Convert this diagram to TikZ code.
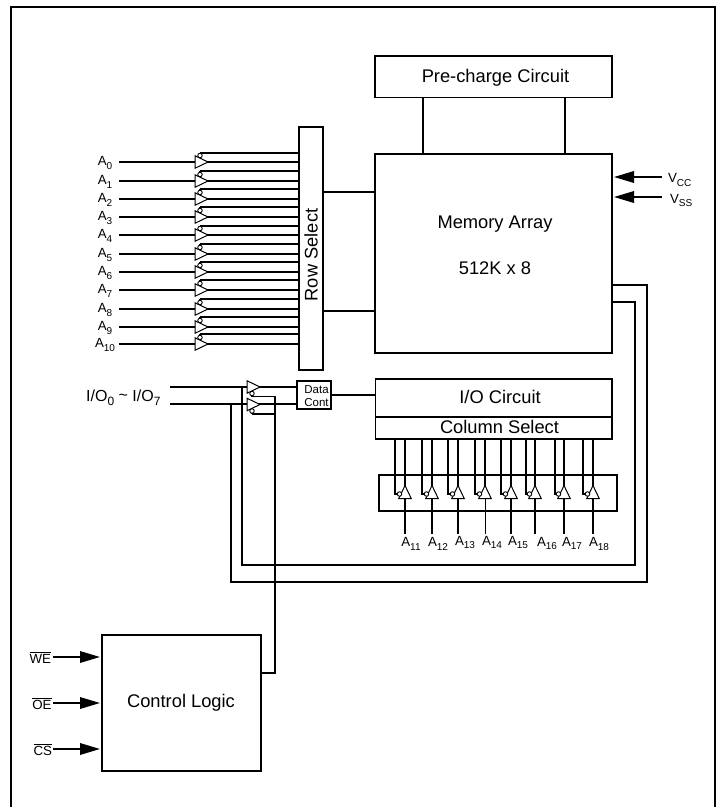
\documentclass[tikz,border=0pt]{standalone}
\usepackage{fontspec}
\setmainfont{Liberation Sans}
\usetikzlibrary{arrows.meta,shapes.geometric,calc}
\newcommand{\fsz}[1]{\fontsize{#1}{#1}\selectfont}
\newcommand{\lsub}[2]{#1\raisebox{-0.28em}{\fsz{10}#2}}
\newcommand{\bigbox}[6]{%
  \node[box,minimum width={(#4-#2)*1pt},minimum height={(#5-#3)*1pt}] (#1) at ({(#2+#4)/2},{(#3+#5)/2}) {#6};}
\tikzset{
  wire/.style={line width=1.8pt},
  box/.style={draw,line width=1.8pt,inner sep=0pt,outer sep=0pt,font=\fsz{18.3}},
  title/.style={inner sep=0pt,outer sep=0pt,font=\fsz{18.3}},
  buf/.style={draw,fill=white,line width=1pt,isosceles triangle,isosceles triangle stretches,
    minimum width=12.5pt,minimum height=13pt,inner sep=0pt,outer sep=0pt,anchor=lower side},
  bub/.style={draw,fill=white,circle,line width=0.9pt,minimum size=4.5pt,inner sep=0pt,outer sep=0pt},
  lab/.style={inner sep=0pt,outer sep=0pt,font=\fsz{13.3}},
  inarrow/.style={line width=1.8pt,-{Triangle[length=20pt,width=11.5pt]},shorten >=2pt},
}
\begin{document}
\begin{tikzpicture}[x=1pt,y=-1pt]
\useasboundingbox (0,0) rectangle (721,807);
\coordinate (fbl) at (11,807);
\coordinate (ftl) at (11,7);
\coordinate (ftr) at (715,7);
\coordinate (fbr) at (715,807);
\draw[wire] (fbl) -- (ftl) -- (ftr) -- (fbr);

% main blocks
\bigbox{pre}{375}{56}{612}{97.5}{}
\node[title] (pret) at (495.5,78) {Pre-charge Circuit};
\bigbox{mem}{375}{154}{612}{353}{}
\node[title] (memt) at (495,224) {Memory Array};
\node[title] (mems) at (495,268.5) {512K x 8};
\bigbox{row}{299}{127}{323}{370}{}
\node[rotate=90,title] (rowt) at (311,255) {Row Select};
\bigbox{ioc}{375.5}{379}{612}{417}{}
\node[title] (ioct) at (500,397) {I/O Circuit};
\bigbox{col}{375.5}{417}{612}{439}{}
\node[title] (colt) at (499.5,427) {Column Select};
\bigbox{ctl}{102}{635}{261}{771}{}
\node[title] (ctlt) at (181,703) {Control Logic};
\bigbox{colf}{379}{475}{617}{511}{}
\node[draw,line width=1.8pt,minimum width=34pt,minimum height=28pt,inner sep=0pt,outer sep=0pt] (dc) at (314,395) {};
\node[inner sep=0pt,align=right,font=\fsz{11.5}] (dct) at (316,396) {\hspace*{1pt}Data\\[1pt]Cont};

% pre-charge to memory
\draw[wire] (pre.south -| 423,0) -- (mem.north -| 423,0);
\draw[wire] (pre.south -| 565,0) -- (mem.north -| 565,0);
% row select to memory
\draw[wire] (row.east |- 0,192) -- (mem.west |- 0,192);
\draw[wire] (row.east |- 0,311) -- (mem.west |- 0,311);

% power
\coordinate (vcc0) at (662,177);
\coordinate (vss0) at (662,197);
\node[lab,anchor=west] (vcc) at (668,180) {\lsub{V}{CC}};
\node[lab,anchor=west] (vss) at (670,200.5) {\lsub{V}{SS}};
\draw[inarrow] (vcc0) -- (mem.east |- vcc0);
\draw[inarrow] (vss0) -- (mem.east |- vss0);

% row address buffers
\foreach \i/\y/\u in {0/162/153,1/181/171,2/199/189,3/217/207,4/235/226,5/254/244,
                      6/272/262,7/290/280,8/309/299,9/327/317,10/344/334}{
  \node[lab] (a\i) at (105,\y+1) {\lsub{A}{\i}};
  \coordinate (ai\i) at (119,\y);
  \coordinate (uw\i) at (200,\u);
  \draw[wire] (ai\i) -- (row.west |- ai\i);
  \draw[wire] (uw\i) -- (row.west |- uw\i);
  \draw[wire] (uw\i) -- ++(0,3);
  \node[buf] (b\i) at (195,\y) {};
  \node[bub] (bb\i) at (200,\y-6.5) {};
}

% I/O buffers
\node[lab,anchor=east,font=\fsz{16}] (iolab) at (160.5,397.5) {I/O\raisebox{-0.25em}{\fsz{12}0} \raisebox{0.05em}{\textasciitilde} I/O\raisebox{-0.25em}{\fsz{12}7}};
\coordinate (io0) at (170,387);
\coordinate (io1) at (170,404);
\draw[wire] (io0) -- (dc.west |- io0);
\draw[wire] (io1) -- (dc.west |- io1);
\draw[wire] (dc.east) -- (ioc.west |- dc.east);
\coordinate (cu0) at (252,396.5);
\coordinate (cu1) at (252,414);
\coordinate (cv) at (275,673);
\draw[wire] (cu0) -- (cu0 -| cv) -- (cv) -- (ctl.east |- cv);
\draw[wire] (cu1) -- (cu1 -| cv);
\draw[wire] (cu0) -- ++(0,-1);
\draw[wire] (cu1) -- ++(0,-1);

% feedback from the memory
\coordinate (t0) at (242,387);
\coordinate (t1) at (231,404);
\draw[wire] (mem.east |- 0,285) -| (647,582) -| (t1);
\draw[wire] (mem.east |- 0,302) -| (635,565) -| (t0);

\node[buf] (ob0) at (247,387) {};
\node[buf] (ob1) at (247,404.5) {};
\node[bub] (obb0) at (252,393.5) {};
\node[bub] (obb1) at (252,411) {};

% control inputs
\foreach \n/\t/\y/\r in {we/WE/657/51,oe/OE/703/51.5,cs/CS/749/52}{
  \node[lab,anchor=east] (\n) at (\r,\y+0.5) {$\overline{\mbox{\t}}$};
  \coordinate (\n0) at (53,\y);
  \draw[inarrow] (\n0) -- (ctl.west |- \n0);
}

% column buffers
\foreach \k/\c/\l/\tx/\ty/\w in {11/405/395/411/544/1.8,12/432/422/438/544/1.8,13/458/448/465/542.5/1.8,14/485/475/492/542.5/0.9,
    15/511/501/518/542.5/1.8,16/535/526/547/543.5/1.8,17/564/555/572/543.5/1.8,18/593/583/599/544/1.8}{
  \coordinate (ct\k) at (\c,439);
  \coordinate (cl\k) at (\l,439);
  \coordinate (cb\k) at (\c,534);
  \draw[wire] (ct\k) -- (\c,488);
  \draw[line width=\w pt] (\c,498) -- (cb\k);
  \draw[wire] (cl\k) |- (\c-6,494);
  \node[buf,rotate=90] (cbuf\k) at (\c,498.5) {};
  \node[bub] (cbb\k) at (\c-5.5,494) {};
  \node[lab] (ca\k) at (\tx,\ty) {\lsub{A}{\k}};
}
\end{tikzpicture}
\end{document}
